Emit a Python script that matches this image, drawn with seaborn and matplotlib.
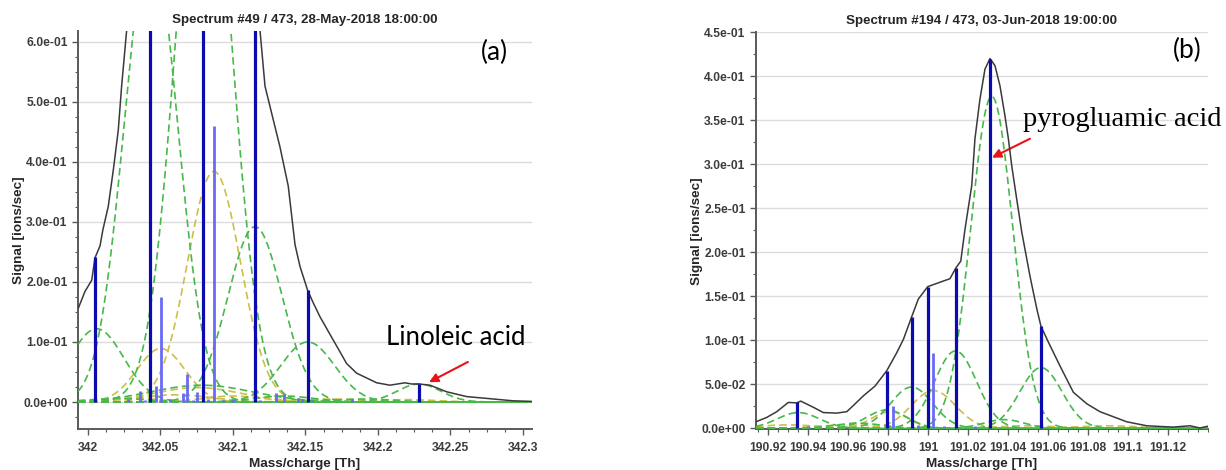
import numpy as np
import pandas as pd
import matplotlib
matplotlib.use("Agg")
import matplotlib.pyplot as plt
from matplotlib.ticker import FixedLocator, MultipleLocator
import seaborn as sns

sns.set_theme(style="white")
plt.rcParams["font.family"] = ["Liberation Sans", "DejaVu Sans"]

# ---------------- Panel (a): spectrum #49, 28-May-2018 ----------------
a_title = "Spectrum #49 / 473, 28-May-2018 18:00:00"
a_mass = [341.9933, 341.9979, 342.0026, 342.0048, 342.0083, 342.0103, 342.0140,
          342.0175, 342.0209, 342.0232, 342.0267, 342.0324, 342.0372, 342.0428,
          342.0531, 342.0634, 342.0738, 342.0807, 342.0876, 342.0979, 342.1083,
          342.1152, 342.1186, 342.1221, 342.1278, 342.1324, 342.1381, 342.1405,
          342.1428, 342.1462, 342.1515, 342.1554, 342.1600, 342.1692, 342.1784,
          342.1853, 342.1991, 342.2083, 342.2186, 342.2232, 342.2283, 342.2359,
          342.2474, 342.2612, 342.2750, 342.2931, 342.3062]
a_signal = [0.156, 0.184, 0.203, 0.240, 0.260, 0.287, 0.326,
            0.387, 0.453, 0.526, 0.620, 0.780, 0.920, 1.000,
            1.050, 1.100, 1.200, 1.250, 1.220, 1.000, 0.800,
            0.670, 0.620, 0.526, 0.470, 0.425, 0.360, 0.310,
            0.262, 0.226, 0.186, 0.165, 0.142, 0.103, 0.064,
            0.048, 0.032, 0.028, 0.032, 0.030, 0.030, 0.028,
            0.017, 0.009, 0.006, 0.002, 0.001]

a_green_center = [342.0060, 342.0434, 342.0797, 342.1152, 342.1515, 342.2283,
                  342.0784, 342.0200, 342.1350, 342.1900]
a_green_height = [0.122, 0.770, 1.010, 0.292, 0.100, 0.030,
                  0.028, 0.006, 0.010, 0.005]
a_green_width = [0.0186, 0.0183, 0.0190, 0.0186, 0.0186, 0.0150,
                 0.0350, 0.0200, 0.0200, 0.0200]

a_yellow_center = [342.0869, 342.0503, 342.0754, 342.0600, 342.1000, 342.0300,
                   342.1700, 342.2200]
a_yellow_height = [0.384, 0.089, 0.024, 0.012, 0.010, 0.006, 0.005, 0.004]
a_yellow_width = [0.0183, 0.0165, 0.0300, 0.0250, 0.0200, 0.0200, 0.0200, 0.0200]

a_peak_mass = [342.0048, 342.0428, 342.0791, 342.1152, 342.1515, 342.2283]
a_peak_height = [0.242, 0.830, 1.080, 0.660, 0.186, 0.030]

a_minor_mass = [342.0359, 342.0469, 342.0503, 342.0653, 342.0681, 342.0754,
                342.0869, 342.1297, 342.1354, 342.0276, 342.0393, 342.0566,
                342.0724, 342.0828, 342.0931, 342.1000, 342.1186, 342.1448,
                342.1476, 342.1545, 342.1821]
a_minor_height = [0.018, 0.026, 0.175, 0.015, 0.047, 0.016,
                  0.459, 0.015, 0.013, 0.005, 0.004, 0.005,
                  0.004, 0.005, 0.004, 0.005, 0.004, 0.006,
                  0.005, 0.004, 0.005]

a_xticks = [342, 342.05, 342.1, 342.15, 342.2, 342.25, 342.3]
a_yticks = [0.0, 0.1, 0.2, 0.3, 0.4, 0.5, 0.6]
a_xlim = (341.9931, 342.3062)
a_ylim = (-0.045, 0.618)

# ---------------- Panel (b): spectrum #194, 03-Jun-2018 ----------------
b_title = "Spectrum #194 / 473, 03-Jun-2018 19:00:00"
b_mass = [190.9140, 190.9194, 190.9244, 190.9302, 190.9344, 190.9364, 190.9427,
          190.9477, 190.9544, 190.9594, 190.9627, 190.9677, 190.9735, 190.9794,
          190.9844, 190.9877, 190.9919, 190.9952, 190.9999, 191.0060, 191.0110,
          191.0139, 191.0164, 191.0185, 191.0219, 191.0235, 191.0260, 191.0285,
          191.0310, 191.0335, 191.0360, 191.0385, 191.0402, 191.0419, 191.0444,
          191.0469, 191.0510, 191.0544, 191.0565, 191.0602, 191.0660, 191.0727,
          191.0794, 191.0860, 191.0994, 191.1094, 191.1225, 191.1310, 191.1360,
          191.1400]
b_signal = [0.0075, 0.0125, 0.019, 0.0295, 0.029, 0.031, 0.024,
            0.018, 0.0174, 0.019, 0.026, 0.037, 0.048, 0.0655,
            0.086, 0.101, 0.127, 0.147, 0.161, 0.166, 0.170,
            0.182, 0.190, 0.226, 0.276, 0.329, 0.374, 0.408,
            0.420, 0.412, 0.389, 0.355, 0.329, 0.298, 0.260,
            0.223, 0.173, 0.136, 0.116, 0.098, 0.071, 0.041,
            0.028, 0.019, 0.0075, 0.003, 0.0015, 0.003, 0.0005,
            0.0025]

b_green_center = [190.9352, 190.9794, 190.9918, 191.0138, 191.0319, 191.0565,
                  191.0380, 190.9650]
b_green_height = [0.018, 0.021, 0.047, 0.088, 0.377, 0.069, 0.010, 0.006]
b_green_width = [0.0105, 0.0100, 0.0105, 0.0105, 0.0105, 0.0105, 0.0100, 0.0120]

b_yellow_center = [191.0027, 190.9810, 190.9300, 190.9600, 191.0500, 191.0900]
b_yellow_height = [0.043, 0.019, 0.004, 0.004, 0.003, 0.003]
b_yellow_width = [0.0110, 0.0090, 0.0150, 0.0150, 0.0150, 0.0150]

b_peak_mass = [190.9343, 190.9794, 190.9918, 190.9998, 191.0138, 191.0310, 191.0565]
b_peak_height = [0.0295, 0.0655, 0.127, 0.161, 0.182, 0.420, 0.116]

b_minor_mass = [190.9827, 191.0023, 191.0235, 190.9950, 191.0080, 190.9400]
b_minor_height = [0.026, 0.0856, 0.003, 0.004, 0.003, 0.003]

b_xticks = [190.92, 190.94, 190.96, 190.98, 191.0, 191.02, 191.04, 191.06,
            191.08, 191.1, 191.12]
b_yticks = [0.0, 0.05, 0.1, 0.15, 0.2, 0.25, 0.3, 0.35, 0.4, 0.45]
b_xlim = (190.9140, 191.1400)
b_ylim = (-0.001, 0.45)

# colours
C_SUM = "#3a3a3a"
C_GREEN = "#49b84a"
C_YELLOW = "#cdbf45"
C_PEAK = "#0b0bb0"
C_MINOR = "#6a6af5"
C_AXIS = "#5a5a5a"
C_TICKTXT = "#3c3c3c"


def component_frame(centers, heights, widths, xlim, n=700):
    """Gaussian fit components sampled over the mass axis (long format)."""
    grid = np.linspace(xlim[0], xlim[1], n)
    rows = []
    for k, (c, h, w) in enumerate(zip(centers, heights, widths)):
        y = h * np.exp(-0.5 * ((grid - c) / w) ** 2)
        rows.append(pd.DataFrame({"mass": grid, "signal": y, "comp": k}))
    return pd.concat(rows, ignore_index=True)


def draw_panel(ax, title, mass, signal, g_c, g_h, g_w, y_c, y_h, y_w,
               pk_m, pk_h, mn_m, mn_h, xticks, yticks, xlim, ylim,
               x_minor, y_minor):
    ax.set_xlim(*xlim)
    ax.set_ylim(*ylim)
    ax.yaxis.grid(True, color="#dcdcdc", lw=1.0, zorder=0)
    ax.set_axisbelow(True)

    yel = component_frame(y_c, y_h, y_w, xlim)
    sns.lineplot(data=yel, x="mass", y="signal", units="comp", estimator=None,
                 color=C_YELLOW, lw=1.2, linestyle=(0, (4.5, 2.5)), ax=ax,
                 legend=False, zorder=2)
    grn = component_frame(g_c, g_h, g_w, xlim)
    sns.lineplot(data=grn, x="mass", y="signal", units="comp", estimator=None,
                 color=C_GREEN, lw=1.2, linestyle=(0, (4.5, 2.5)), ax=ax,
                 legend=False, zorder=3)

    spec = pd.DataFrame({"mass": mass, "signal": signal})
    sns.lineplot(data=spec, x="mass", y="signal", sort=False, estimator=None,
                 color=C_SUM, lw=1.1, ax=ax, legend=False, zorder=4)

    ax.vlines(mn_m, 0, mn_h, color=C_MINOR, lw=2.0, zorder=5)
    ax.vlines(pk_m, 0, pk_h, color=C_PEAK, lw=2.3, zorder=6)

    ax.set_title(title, fontsize=9.6, fontweight="bold", pad=6)
    ax.set_xlabel("Mass/charge [Th]", fontsize=9.7, fontweight="bold", labelpad=3)
    ax.set_ylabel("Signal [ions/sec]", fontsize=9.7, fontweight="bold", labelpad=-1)

    ax.xaxis.set_major_locator(FixedLocator(xticks))
    ax.set_xticklabels([f"{v:g}" for v in xticks])
    ax.xaxis.set_minor_locator(MultipleLocator(x_minor))
    ax.yaxis.set_major_locator(FixedLocator(yticks))
    ax.set_yticklabels([f"{v:.1e}" for v in yticks])
    ax.yaxis.set_minor_locator(MultipleLocator(y_minor))

    for lab in ax.get_xticklabels() + ax.get_yticklabels():
        lab.set_fontweight("bold")
        lab.set_fontsize(8.7)
        lab.set_color(C_TICKTXT)
    ax.tick_params(axis="x", which="major", pad=5)
    ax.tick_params(axis="both", which="major", direction="out", length=4,
                   width=1.0, color=C_AXIS, bottom=True, left=True)
    ax.tick_params(axis="both", which="minor", direction="out", length=2.5,
                   width=0.8, color=C_AXIS, bottom=True, left=True)
    for side in ("top", "right"):
        ax.spines[side].set_visible(False)
    for side in ("left", "bottom"):
        ax.spines[side].set_color(C_AXIS)
        ax.spines[side].set_linewidth(1.4)


fig = plt.figure(figsize=(12.26, 4.70), dpi=100)
ax_a = fig.add_axes([0.0636, 0.0872, 0.3703, 0.8468])
ax_b = fig.add_axes([0.6166, 0.0866, 0.3687, 0.8450])

draw_panel(ax_a, a_title, a_mass, a_signal,
           a_green_center, a_green_height, a_green_width,
           a_yellow_center, a_yellow_height, a_yellow_width,
           a_peak_mass, a_peak_height, a_minor_mass, a_minor_height,
           a_xticks, a_yticks, a_xlim, a_ylim, 0.0125, 0.025)
draw_panel(ax_b, b_title, b_mass, b_signal,
           b_green_center, b_green_height, b_green_width,
           b_yellow_center, b_yellow_height, b_yellow_width,
           b_peak_mass, b_peak_height, b_minor_mass, b_minor_height,
           b_xticks, b_yticks, b_xlim, b_ylim, 0.005, 0.025)

# panel tags and compound annotations
ax_a.text(0.918, 0.947, "(a)", transform=ax_a.transAxes, ha="center",
          va="center", fontsize=19, family="Lato", color="black")
ax_b.text(0.954, 0.955, "(b)", transform=ax_b.transAxes, ha="center",
          va="center", fontsize=19, family="Lato", color="black")

ax_a.text(342.2538, 0.107, "Linoleic acid", ha="center", va="center",
          fontsize=18.5, family="Lato", color="black")
ax_a.annotate("", xy=(342.2352, 0.033), xytext=(342.2620, 0.0667),
              arrowprops=dict(arrowstyle="-|>", color="#e8141c", lw=1.5,
                              mutation_scale=13, shrinkA=0, shrinkB=0))

ax_b.text(191.097, 0.351, "pyrogluamic acid", ha="center", va="center",
          fontsize=20.5, family="Liberation Serif", color="black")
ax_b.annotate("", xy=(191.032, 0.3075), xytext=(191.051, 0.329),
              arrowprops=dict(arrowstyle="-|>", color="#e8141c", lw=1.5,
                              mutation_scale=13, shrinkA=0, shrinkB=0))

fig.savefig("out.png", dpi=100)
